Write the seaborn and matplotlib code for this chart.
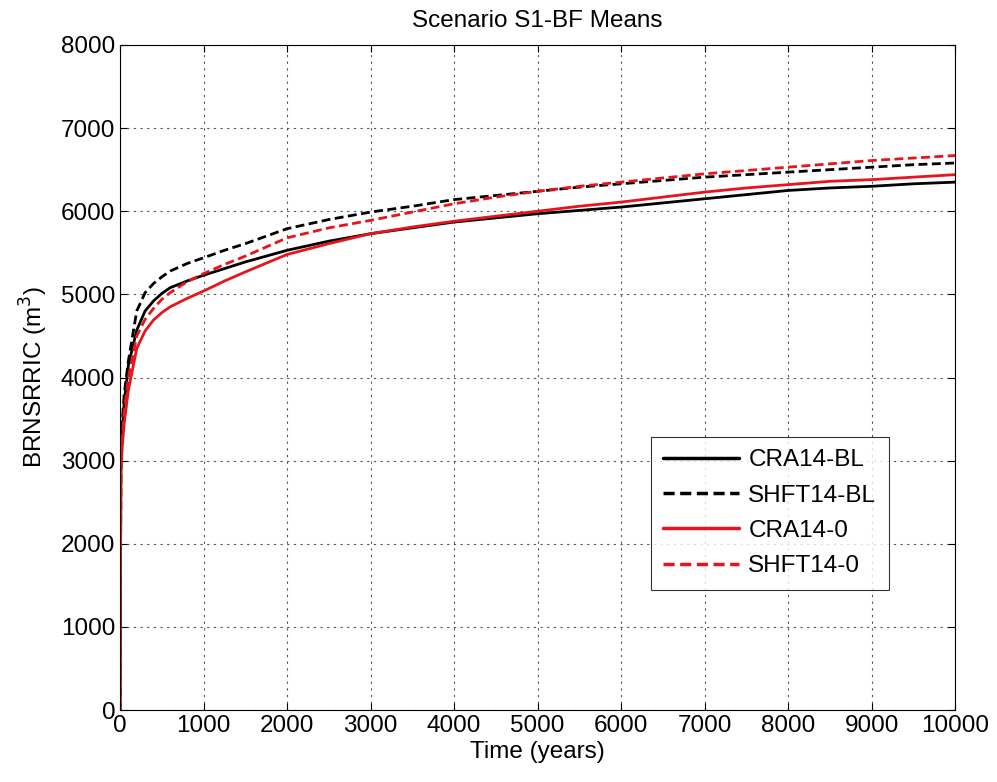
import matplotlib
matplotlib.use("Agg")
import matplotlib.pyplot as plt
import seaborn as sns
import pandas as pd

time_years = [0, 10, 25, 50, 100, 200, 300, 400, 500, 600, 800, 1000, 1250, 1500,
              2000, 2500, 3000, 3500, 4000, 4500, 5000, 5500, 6000, 6500, 7000,
              7500, 8000, 8500, 9000, 9500, 10000]

cra14_bl = [0, 2950, 3350, 3700, 4150, 4570, 4800, 4920, 5010, 5080, 5160, 5230, 5310, 5390,
            5530, 5640, 5730, 5800, 5870, 5920, 5970, 6010, 6050, 6100, 6150,
            6200, 6250, 6280, 6300, 6330, 6350]
shft14_bl = [0, 3000, 3450, 3800, 4200, 4800, 5020, 5130, 5210, 5280, 5370, 5440, 5530, 5610,
             5790, 5900, 5990, 6060, 6140, 6190, 6240, 6290, 6330, 6370, 6410,
             6440, 6470, 6500, 6530, 6560, 6580]
cra14_0 = [0, 2850, 3150, 3450, 3850, 4350, 4560, 4690, 4780, 4850, 4950, 5040, 5160, 5270,
           5480, 5610, 5730, 5810, 5880, 5940, 6000, 6060, 6110, 6170, 6230,
           6280, 6320, 6360, 6380, 6410, 6440]
shft14_0 = [0, 2900, 3250, 3600, 4000, 4500, 4700, 4830, 4940, 5020, 5150, 5250, 5360, 5460,
            5680, 5800, 5890, 5990, 6090, 6170, 6240, 6300, 6350, 6400, 6450,
            6490, 6530, 6570, 6610, 6640, 6670]

series_names = ["CRA14-BL", "SHFT14-BL", "CRA14-0", "SHFT14-0"]
series_values = [cra14_bl, shft14_bl, cra14_0, shft14_0]
x_ticks = [0, 1000, 2000, 3000, 4000, 5000, 6000, 7000, 8000, 9000, 10000]
y_ticks = [0, 1000, 2000, 3000, 4000, 5000, 6000, 7000, 8000]

rows = []
for name, vals in zip(series_names, series_values):
    for t, v in zip(time_years, vals):
        rows.append({"Time": t, "Value": v, "Series": name})
df = pd.DataFrame(rows)

sns.set_style("white")
plt.rcParams["font.family"] = ["Liberation Sans", "DejaVu Sans"]
plt.rcParams["text.color"] = "black"
plt.rcParams["axes.labelcolor"] = "black"

FS = 17.5
fig = plt.figure(figsize=(9.97, 7.82), dpi=100)
ax = fig.add_axes([0.1204, 0.092, 0.8376, 0.8505])

palette = {"CRA14-BL": "black", "SHFT14-BL": "black", "CRA14-0": "#e8141b", "SHFT14-0": "#e8141b"}
dashes = {"CRA14-BL": "", "SHFT14-BL": (3.2, 1.6), "CRA14-0": "", "SHFT14-0": (3.2, 1.6)}

sns.lineplot(data=df, x="Time", y="Value", hue="Series", style="Series",
             palette=palette, dashes=dashes, hue_order=series_names,
             style_order=series_names, linewidth=2, ax=ax, legend=True)

ax.set_xlim(0, 10000)
ax.set_ylim(0, 8000)
ax.set_xticks(x_ticks)
ax.set_yticks(y_ticks)
ax.tick_params(axis="both", direction="in", labelsize=FS, length=5, colors="black",
               top=True, right=True, bottom=True, left=True)
ax.grid(True, color="#555555", linestyle=(0, (2, 4)), linewidth=0.8)
for s in ax.spines.values():
    s.set_color("black")
    s.set_linewidth(0.8)
    s.set_visible(True)

ax.set_xlabel("Time (years)", fontsize=FS, labelpad=3, color="black")
ax.set_ylabel("BRNSRRIC (m$^3$)", fontsize=FS, labelpad=8, color="black")
ax.set_title("Scenario S1-BF Means", fontsize=FS, pad=13, color="black")

leg = ax.legend(loc="upper left", bbox_to_anchor=(0.636, 0.4105), fontsize=FS,
                frameon=True, fancybox=False, edgecolor="black", handlelength=3.1,
                handletextpad=0.4, borderpad=0.5, labelspacing=0.55, borderaxespad=0)
leg.get_frame().set_linewidth(0.8)
for line in leg.get_lines():
    line.set_linewidth(2.5)

fig.savefig("out.png", dpi=100)
